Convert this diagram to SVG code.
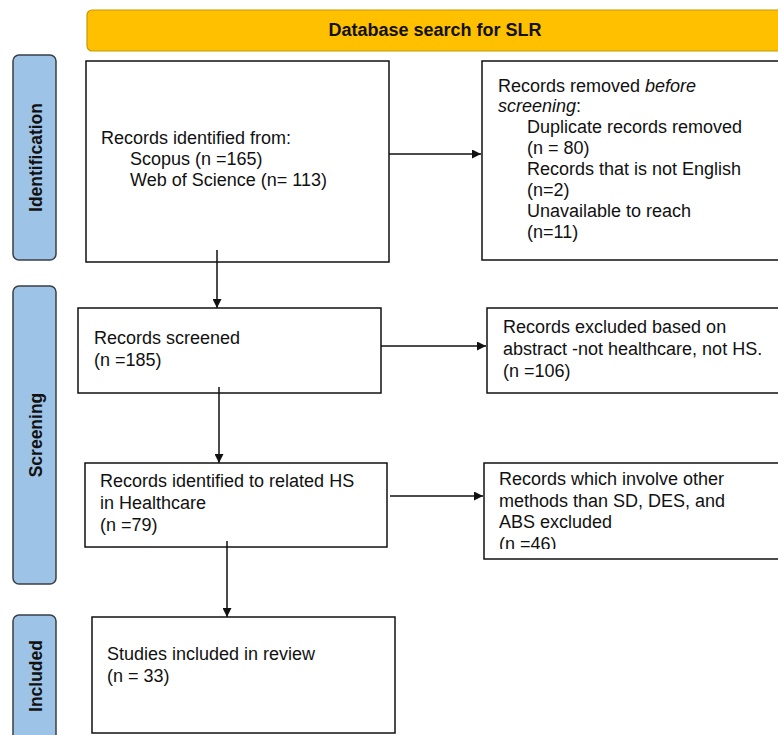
<svg xmlns="http://www.w3.org/2000/svg" width="778" height="735" viewBox="0 0 778 735">
<style>
  text { font-family: "Liberation Sans", Arial, sans-serif; fill: #111; }
  .t { font-size: 18px; }
  .side { fill: #9DC3E6; stroke: #3A3F46; stroke-width: 1.5; }
  .lbl { font-size: 17.5px; font-weight: bold; text-anchor: middle; }
  .box { fill: #fff; stroke: #111; stroke-width: 1.5; }
  .ban { fill: #FFC000; stroke: #C49A00; stroke-width: 1.2; }
  .con { stroke: #111; stroke-width: 1.5; fill: none; marker-end: url(#ah); }
</style>
<defs>
  <marker id="ah" viewBox="0 0 10 10" refX="10" refY="5" markerWidth="10" markerHeight="9" markerUnits="userSpaceOnUse" orient="auto">
    <path d="M0,0 L10,5 L0,10 Z" fill="#111"/>
  </marker>
  <clipPath id="clip46"><rect x="484" y="463" width="300" height="86"/></clipPath>
</defs>
<rect width="778" height="735" fill="#fff"/>

<g id="banner">
  <rect class="ban" x="87" y="10" width="720" height="41" rx="5"/>
  <text x="435" y="36" style="font-size:18px;font-weight:bold;text-anchor:middle">Database search for SLR</text>
</g>

<g id="phase-identification">
  <rect class="side" x="13" y="55" width="43" height="205" rx="6"/>
  <text class="lbl" transform="translate(42,157.5) rotate(-90)">Identification</text>
</g>
<g id="phase-screening">
  <rect class="side" x="13" y="286" width="43" height="298" rx="6"/>
  <text class="lbl" transform="translate(42,435) rotate(-90)">Screening</text>
</g>
<g id="phase-included">
  <rect class="side" x="13" y="615" width="43" height="130" rx="6"/>
  <text class="lbl" transform="translate(42,676) rotate(-90)">Included</text>
</g>

<g id="identified">
  <rect class="box" x="86" y="61" width="303" height="201"/>
  <text class="t" x="101" y="144">Records identified from:</text>
  <text class="t" x="130" y="165">Scopus (n =165)</text>
  <text class="t" x="130" y="186">Web of Science (n= 113)</text>
</g>

<g id="removed">
  <rect class="box" x="482" y="61" width="310" height="199"/>
  <text class="t" x="498" y="92">Records removed <tspan font-style="italic">before</tspan></text>
  <text class="t" x="498" y="112"><tspan font-style="italic">screening</tspan>:</text>
  <text class="t" x="527" y="133">Duplicate records removed</text>
  <text class="t" x="527" y="154">(n = 80)</text>
  <text class="t" x="527" y="175">Records that is not English</text>
  <text class="t" x="527" y="196">(n=2)</text>
  <text class="t" x="527" y="217">Unavailable to reach</text>
  <text class="t" x="527" y="238">(n=11)</text>
</g>

<g id="screened">
  <rect class="box" x="78" y="308" width="303" height="85"/>
  <text class="t" x="94" y="344">Records screened</text>
  <text class="t" x="94" y="366">(n =185)</text>
</g>

<g id="excluded-abstract">
  <rect class="box" x="487" y="308" width="310" height="85"/>
  <text class="t" x="503" y="333">Records excluded based on</text>
  <text class="t" x="503" y="355">abstract -not healthcare, not HS.</text>
  <text class="t" x="503" y="377">(n =106)</text>
</g>

<g id="related-hs">
  <rect class="box" x="85" y="463" width="302" height="84"/>
  <text class="t" x="100" y="487">Records identified to related HS</text>
  <text class="t" x="100" y="509">in Healthcare</text>
  <text class="t" x="100" y="531">(n =79)</text>
</g>

<g id="excluded-methods">
  <rect class="box" x="484" y="463" width="310" height="96"/>
  <text class="t" x="499" y="485">Records which involve other</text>
  <text class="t" x="499" y="507">methods than SD, DES, and</text>
  <text class="t" x="499" y="528">ABS excluded</text>
  <text class="t" x="499" y="550" clip-path="url(#clip46)">(n =46)</text>
</g>

<g id="included">
  <rect class="box" x="92" y="617" width="303" height="116"/>
  <text class="t" x="107" y="660">Studies included in review</text>
  <text class="t" x="107" y="682">(n = 33)</text>
</g>

<g id="connectors">
  <line class="con" x1="389" y1="154" x2="481" y2="154"/>
  <line class="con" x1="217" y1="250" x2="217" y2="308"/>
  <line class="con" x1="381" y1="346" x2="486" y2="346"/>
  <line class="con" x1="219" y1="387" x2="219" y2="463"/>
  <line class="con" x1="390" y1="496" x2="483" y2="496"/>
  <line class="con" x1="227" y1="541" x2="227" y2="617"/>
</g>
</svg>
